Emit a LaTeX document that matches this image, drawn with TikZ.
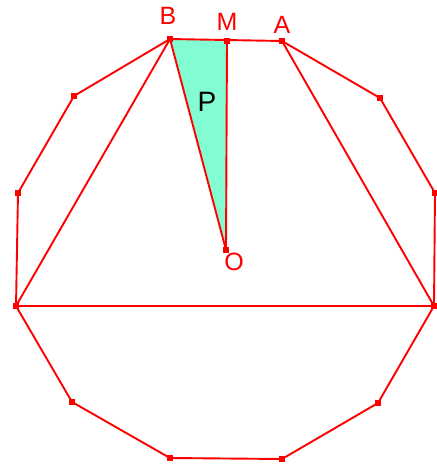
\documentclass[tikz,border=0pt]{standalone}
\usepackage{fontspec}
\setmainfont{Liberation Sans}
\definecolor{pred}{RGB}{255,0,0}
\definecolor{pgreen}{RGB}{130,252,210}
\begin{document}
\begin{tikzpicture}[x=1pt,y=-1pt,
  edge/.style={draw=pred,line width=1.9pt,line join=round},
  vmark/.style={fill=pred,minimum size=5.5pt,inner sep=0pt,rectangle,draw=none},
  lbl/.style={text=pred,font=\fontsize{25}{27}\selectfont,inner sep=0pt},
  plbl/.style={text=black,font=\fontsize{28}{30}\selectfont,inner sep=0pt}]
\useasboundingbox (0,0) rectangle (437,464);
\coordinate (B) at (170,39);
\coordinate (M) at (227,41);
\coordinate (A) at (282,41);
\coordinate (V1) at (380,98);
\coordinate (V2) at (435,193);
\coordinate (V3) at (434,306);
\coordinate (V4) at (378,403);
\coordinate (V5) at (282,459);
\coordinate (V6) at (170,458);
\coordinate (V7) at (72,402);
\coordinate (V8) at (16,306);
\coordinate (V9) at (18,193);
\coordinate (V10) at (74,96);
\coordinate (O) at (226,250);
\fill[pgreen] (B) -- (M) -- (O) -- cycle;
\draw[edge] (B) -- (A) -- (V1) -- (V2) -- (V3) -- (V4) -- (V5) -- (V6) -- (V7) -- (V8) -- (V9) -- (V10) -- cycle;
\draw[edge] (B) -- (V8) -- (V3) -- (A);
\draw[edge] (B) -- (O) -- (M);
\foreach \v in {B,M,A,V1,V2,V3,V4,V5,V6,V7,V8,V9,V10,O}
  \node[vmark] at (\v) {};
\node[lbl] (lB) at (168,16) {B};
\node[lbl] (lM) at (227,22) {M};
\node[lbl] (lA) at (282,25) {A};
\node[lbl] (lO) at (234,262) {O};
\node[plbl] (lP) at (207,102) {P};
\end{tikzpicture}
\end{document}
